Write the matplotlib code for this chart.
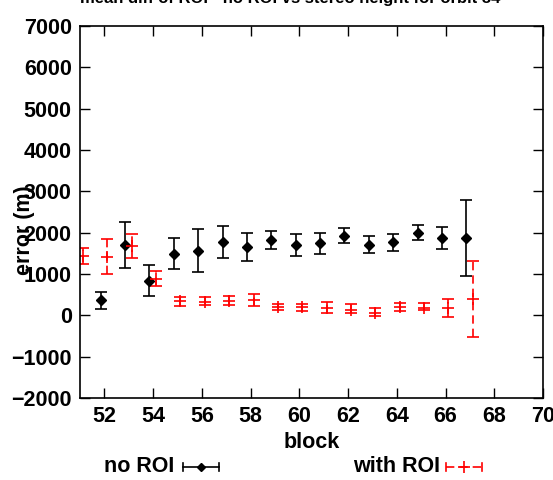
import matplotlib.pyplot as plt
from matplotlib.lines import Line2D
import numpy as np

plt.rcParams['font.family'] = ['Liberation Sans', 'DejaVu Sans']
plt.rcParams['font.weight'] = 'bold'

# no ROI: mean diff with lower/upper bounds
blocks_no = np.arange(52, 68)
no_roi = np.array([363, 1712, 840, 1494, 1566, 1784, 1654, 1824, 1711, 1743, 1929, 1711, 1767, 2002, 1872, 1876])
no_lo = np.array([162, 1155, 460, 1114, 1049, 1397, 1315, 1614, 1445, 1485, 1743, 1509, 1566, 1816, 1606, 952])
no_hi = np.array([565, 2260, 1228, 1872, 2099, 2171, 1985, 2034, 1961, 2002, 2123, 1929, 1961, 2187, 2147, 2801])

# with ROI
blocks_roi = np.arange(51, 68)
roi = np.array([1436, 1412, 1671, 872, 339, 323, 355, 380, 200, 190, 186, 137, 65, 194, 186, 178, 395])
roi_lo = np.array([1252, 993, 1397, 710, 235, 242, 242, 235, 128, 104, 65, 48, -24, 114, 121, -40, -525])
roi_hi = np.array([1639, 1840, 1961, 1073, 443, 443, 460, 525, 266, 283, 323, 273, 170, 290, 290, 404, 1315])

fig = plt.figure(figsize=(5.53, 4.8), dpi=100)
ax = fig.add_axes([80/553, 1-398/480, 463/553, 372/480])

ax.errorbar(blocks_no - 0.15, no_roi, yerr=[no_roi - no_lo, no_hi - no_roi],
            fmt='D', color='black', ms=5.5, elinewidth=1.2, capsize=4, capthick=1.2)
eb = ax.errorbar(blocks_roi + 0.12, roi, yerr=[roi - roi_lo, roi_hi - roi],
                 fmt='+', color='red', ms=8, mew=1.2, elinewidth=1.2, capsize=4, capthick=1.2)
for c in eb[2]:
    c.set_linestyle((0, (5, 3)))

ax.set_xlim(51, 70)
ax.set_ylim(-2000, 7000)
ax.set_xticks(np.arange(52, 71, 2))
ax.set_yticks(np.arange(-2000, 7001, 1000))
ax.tick_params(direction='in', length=7, width=1, top=True, right=True, labelsize=15.5, pad=6)
for s in ax.spines.values():
    s.set_linewidth(1.2)

ax.set_xlabel('block', fontsize=15.5, fontweight='bold', labelpad=3)
ax.set_ylabel('error (m)', fontsize=15.5, fontweight='bold')
ax.yaxis.set_label_coords(-0.098, 0.45)

fig.text(290/553, 1-3/480, 'mean diff of ROI - no ROI vs stereo height for orbit 34',
         ha='center', va='baseline', fontsize=12, fontweight='bold')

# legend drawn gnuplot-style below the axes
ly = 1 - 467/480
fig.text(174/553, ly, 'no ROI', ha='right', va='center', fontsize=15.5, fontweight='bold')
fig.add_artist(Line2D([183/553, 219/553], [ly, ly], color='black', lw=1.2))
for xx in (183, 219):
    fig.add_artist(Line2D([xx/553, xx/553], [ly - 4/480, ly + 4/480], color='black', lw=1.2))
fig.add_artist(Line2D([201/553], [ly], marker='D', ms=4.5, color='black'))

fig.text(440/553, ly, 'with ROI', ha='right', va='center', fontsize=15.5, fontweight='bold')
fig.add_artist(Line2D([446/553, 482/553], [ly, ly], color='red', lw=1.2, ls=(0, (5, 3))))
for xx in (446, 482):
    fig.add_artist(Line2D([xx/553, xx/553], [ly - 4/480, ly + 4/480], color='red', lw=1.2))
fig.add_artist(Line2D([464/553], [ly], marker='+', ms=8, mew=1.2, color='red'))

fig.savefig('out.png', dpi=100)
